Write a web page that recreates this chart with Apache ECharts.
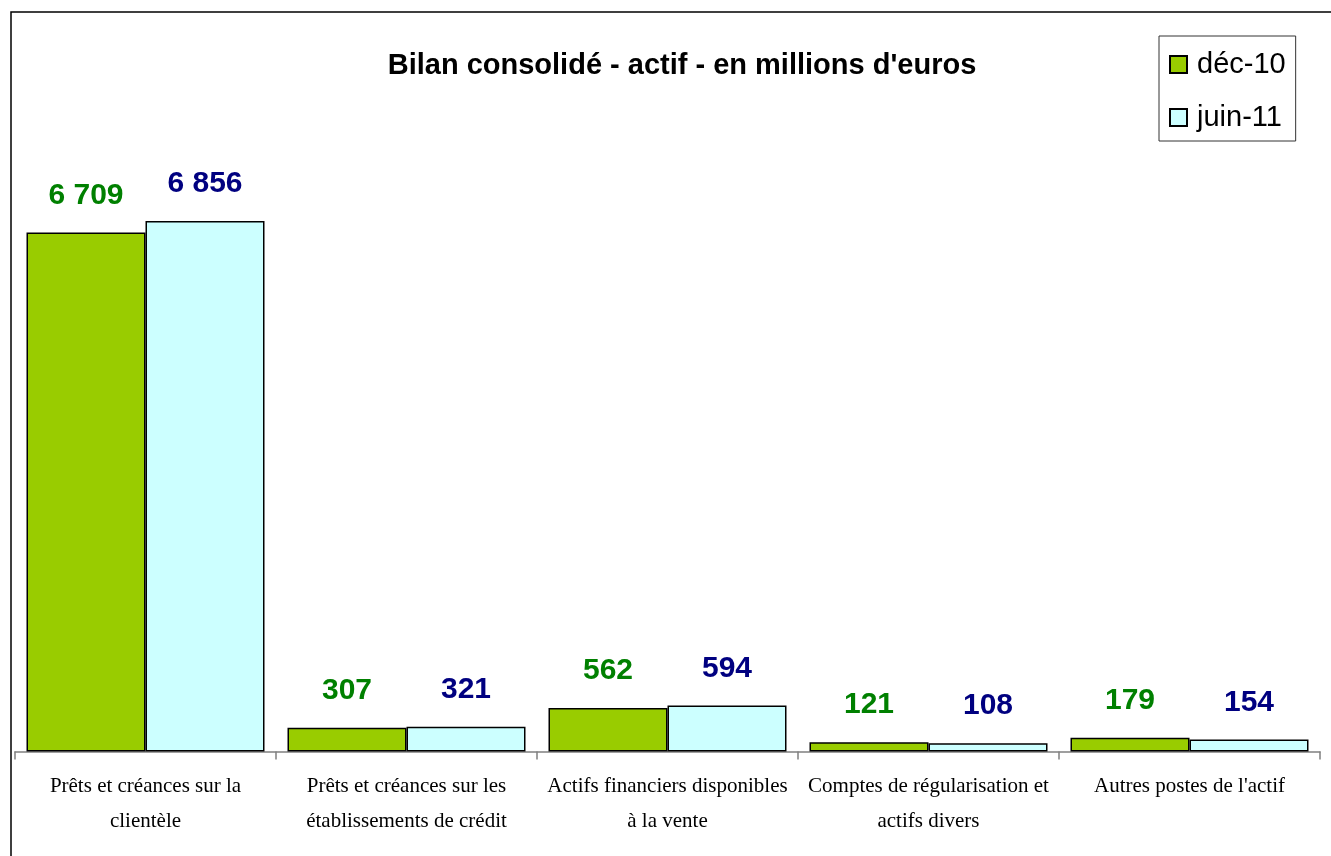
<!DOCTYPE html>
<html><head><meta charset="utf-8">
<script src="https://cdn.jsdelivr.net/npm/echarts@6/dist/echarts.min.js"></script>
<style>html,body{margin:0;padding:0;background:#fff}#c{width:1331px;height:856px}</style>
</head><body><div id="c"></div>
<script>
const categories = [
  "Prêts et créances sur la\nclientèle",
  "Prêts et créances sur les\nétablissements de crédit",
  "Actifs financiers disponibles\nà la vente",
  "Comptes de régularisation et\nactifs divers",
  "Autres postes de l'actif"
];
const seriesNames = ["déc-10", "juin-11"];
const dec10 = [6709, 307, 562, 121, 179];
const juin11 = [6856, 321, 594, 108, 154];
const titleText = "Bilan consolidé - actif - en millions d'euros";

const numFont = "'Liberation Sans', Arial, sans-serif";
const fmt = p => String(p.value).replace(/\B(?=(\d{3})+(?!\d))/g, ' ');

const chart = echarts.init(document.getElementById('c'));
chart.setOption({
  animation: false,
  backgroundColor: '#fff',
  title: {
    text: titleText, left: 677, top: 46, textAlign: 'center',
    textStyle: { fontFamily: numFont, fontWeight: 'bold', fontSize: 29, color: '#000' }
  },
  legend: {
    left: 1159, top: 36, orient: 'vertical',
    padding: [14, 10, 9, 10], itemGap: 24,
    itemWidth: 17, itemHeight: 17,
    borderColor: '#333', borderWidth: 1,
    icon: 'rect',
    textStyle: { fontFamily: numFont, fontSize: 29, color: '#000', padding: [0,0,0,5] },
    data: seriesNames
  },
  graphic: [{
    type: 'rect', shape: { x: 11, y: 12, width: 1400, height: 1000 },
    style: { fill: null, stroke: '#000', lineWidth: 1.5 }, silent: true, z: 100
  }],
  grid: { left: 15, right: 11, top: 132.5, bottom: 104.5, containLabel: false },
  xAxis: {
    type: 'category', data: categories,
    axisLine: { show: true, lineStyle: { color: '#808080', width: 1.5 } },
    axisTick: { show: true, length: 8, alignWithLabel: false, interval: 0, lineStyle: { color: '#808080', width: 1.5 } },
    axisLabel: {
      interval: 0, margin: 17, color: '#000', fontSize: 21, lineHeight: 35,
      fontFamily: "'Liberation Serif', 'Times New Roman', serif"
    }
  },
  yAxis: { type: 'value', min: 0, max: 8000, show: false, splitLine: { show: false } },
  series: [
    {
      name: seriesNames[0], type: 'bar', data: dec10, barWidth: 119, barGap: '0%',
      itemStyle: { color: '#99CC00', borderColor: '#000', borderWidth: 1.5 },
      label: { show: true, position: 'top', distance: 22, formatter: fmt,
        fontFamily: numFont, fontWeight: 'bold', fontSize: 30, color: '#008000' }
    },
    {
      name: seriesNames[1], type: 'bar', data: juin11, barWidth: 119, barGap: '0%',
      itemStyle: { color: '#CCFFFF', borderColor: '#000', borderWidth: 1.5 },
      label: { show: true, position: 'top', distance: 22, formatter: fmt,
        fontFamily: numFont, fontWeight: 'bold', fontSize: 30, color: '#000080' }
    }
  ]
});
</script></body></html>
